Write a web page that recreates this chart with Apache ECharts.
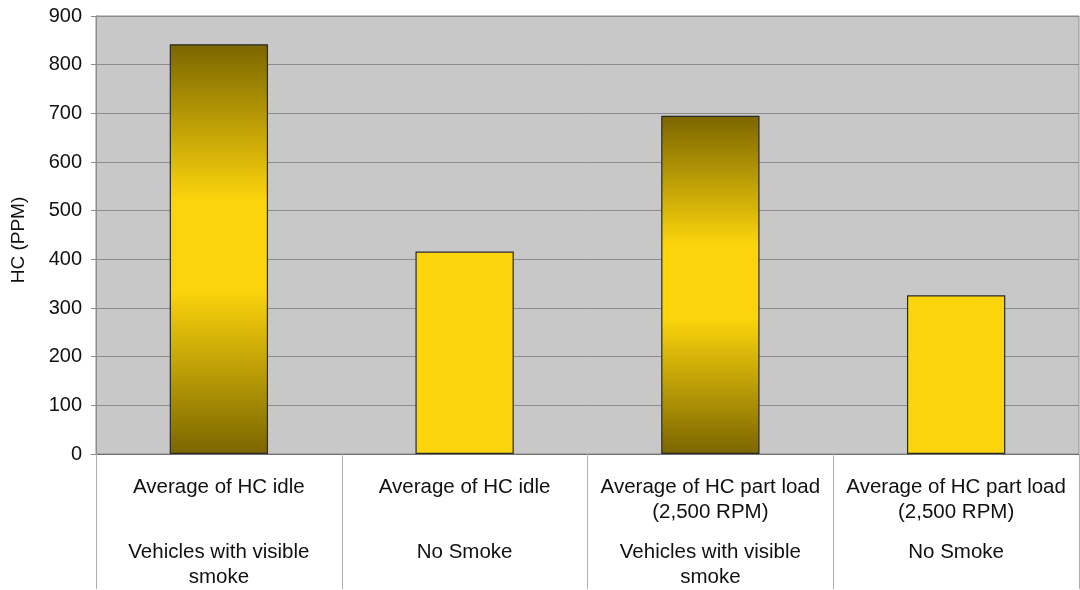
<!DOCTYPE html>
<html>
<head>
<meta charset="utf-8">
<script src="https://cdn.jsdelivr.net/npm/echarts@6/dist/echarts.min.js"></script>
<style>
  html, body { margin: 0; padding: 0; background: #fff; }
  #chart { width: 1080px; height: 590px; }
</style>
</head>
<body>
<div id="chart"></div>
<script>
// data
var topLabels = ['Average of HC idle', 'Average of HC idle', 'Average of HC part load\n(2,500 RPM)', 'Average of HC part load\n(2,500 RPM)'];
var groupLabels = ['Vehicles with visible\nsmoke', 'No Smoke', 'Vehicles with visible\nsmoke', 'No Smoke'];
var hcValues = [842, 416, 695, 326];
var smokeFlags = [true, false, true, false];
var yTicks = [0, 100, 200, 300, 400, 500, 600, 700, 800, 900];

var chart = echarts.init(document.getElementById('chart'));

var fontFam = '"Liberation Sans", Arial, sans-serif';
var yellow = '#fbd40c';
var olive = '#7b6600';

// gradient for the smoke bars: dark at both ends, yellow in the middle
var smokeFill = new echarts.graphic.LinearGradient(0, 0, 0, 1, [
  { offset: 0, color: olive },
  { offset: 0.38, color: yellow },
  { offset: 0.6, color: yellow },
  { offset: 1, color: olive }
]);

var barData = hcValues.map(function (v, i) {
  return {
    value: v,
    itemStyle: { color: smokeFlags[i] ? smokeFill : yellow }
  };
});

var option = {
  animation: false,
  backgroundColor: '#ffffff',
  textStyle: { fontFamily: fontFam },
  grid: {
    left: 96, right: 1, top: 16, bottom: 135,
    show: true,
    backgroundColor: '#c8c8c8',
    borderColor: '#8c8c8c',
    borderWidth: 1
  },
  xAxis: [{
    type: 'category',
    data: topLabels,
    axisLine: { lineStyle: { color: '#707070', width: 1 } },
    axisTick: { show: true, length: 135, interval: 0, lineStyle: { color: '#b0b0b0' } },
    axisLabel: {
      interval: 0, margin: 21, color: '#111',
      fontSize: 20.5, lineHeight: 25, fontFamily: fontFam
    }
  }, {
    type: 'category',
    position: 'bottom',
    data: groupLabels,
    axisLine: { show: false },
    axisTick: { show: false },
    axisLabel: {
      interval: 0, margin: 86, color: '#111',
      fontSize: 20.5, lineHeight: 25, fontFamily: fontFam
    }
  }],
  yAxis: {
    type: 'value',
    min: 0, max: 900, interval: 100,
    name: 'HC (PPM)',
    nameLocation: 'middle',
    nameRotate: 90,
    nameGap: 68,
    nameTextStyle: { fontSize: 19, color: '#111', fontFamily: fontFam, padding: [0, 10, 0, 0] },
    axisLine: { show: true, lineStyle: { color: '#8c8c8c' } },
    axisTick: { show: true, length: 5, lineStyle: { color: '#8c8c8c' } },
    axisLabel: {
      fontSize: 20, color: '#111', margin: 14, fontFamily: fontFam,
      formatter: function (v) { return yTicks.indexOf(v) >= 0 ? String(v) : ''; }
    },
    splitLine: { show: true, lineStyle: { color: '#8c8c8c', width: 1 } }
  },
  series: [{
    type: 'bar',
    xAxisIndex: 0,
    data: barData,
    barWidth: '40%',
    itemStyle: { borderColor: '#2a2a2a', borderWidth: 1.2 }
  }]
};

chart.setOption(option);
</script>
</body>
</html>
